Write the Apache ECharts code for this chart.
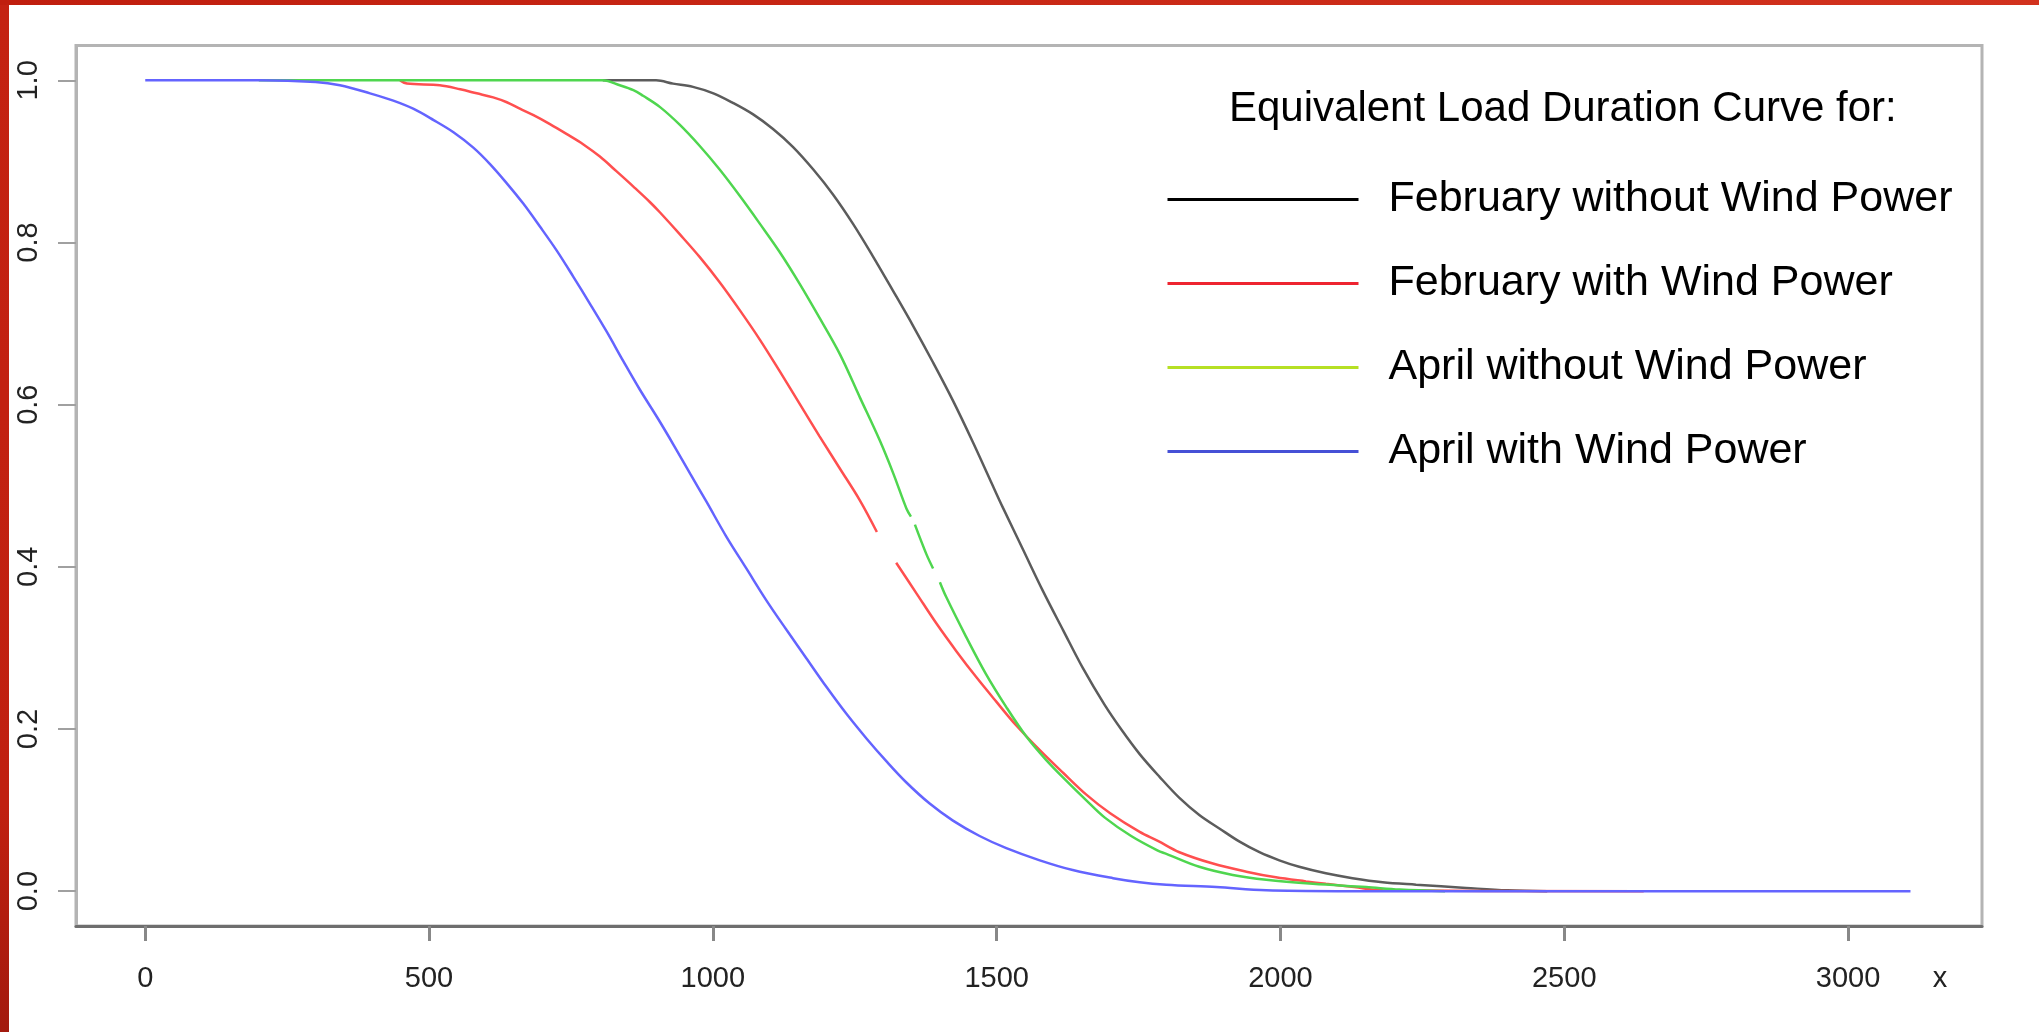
<!DOCTYPE html>
<html>
<head>
<meta charset="utf-8">
<script src="https://cdn.jsdelivr.net/npm/echarts@6/dist/echarts.min.js"></script>
<style>
html,body{margin:0;padding:0;background:#fff;overflow:hidden;}
#chart{position:absolute;left:0;top:0;width:2039px;height:1032px;}
#bl{position:absolute;left:0;top:0;width:9px;height:1032px;background:linear-gradient(#c42212,#c02010 78%,#a31a0e);}
#bt{position:absolute;left:0;top:0;width:2039px;height:5px;background:linear-gradient(90deg,#c01e0e,#d2321e);}
</style>
</head>
<body>
<div id="chart"></div><div id="bl"></div><div id="bt"></div>
<script>
// ---- data ----
const xTicks = [0, 500, 1000, 1500, 2000, 2500, 3000];
const yTicks = [0, 0.2, 0.4, 0.6, 0.8, 1.0];
const titleText = 'Equivalent Load Duration Curve for:';
const seriesNames = ['February without Wind Power', 'February with Wind Power', 'April without Wind Power', 'April with Wind Power'];

const febWithoutWind = [[806,1],[900,1],[930,0.996],[965,0.992],[1001,0.984],[1036,0.972],[1071,0.958],[1106,0.940],[1141,0.918],[1177,0.890],[1212,0.859],[1247,0.823],[1282,0.783],[1317,0.741],[1353,0.697],[1388,0.652],[1423,0.605],[1458,0.554],[1490,0.505],[1511,0.473],[1546,0.422],[1581,0.371],[1617,0.322],[1652,0.275],[1690,0.230],[1720,0.199],[1752,0.169],[1787,0.141],[1822,0.115],[1857,0.094],[1893,0.077],[1928,0.061],[1963,0.048],[1998,0.038],[2033,0.030],[2080,0.022],[2127,0.016],[2180,0.011],[2239,0.008],[2327,0.004],[2400,0.001],[2470,0]];

const febWithWind = [[449,1],[461,0.996],[519,0.994],[555,0.989],[584,0.984],[613,0.979],[637,0.973],[660,0.965],[684,0.957],[713,0.946],[742,0.934],[772,0.921],[801,0.906],[830,0.888],[860,0.869],[889,0.850],[907,0.837],[942,0.810],[977,0.782],[1012,0.751],[1048,0.716],[1083,0.680],[1118,0.641],[1153,0.601],[1188,0.561],[1224,0.521],[1259,0.482],[1289,0.443],[1305,null],[1323,0.405],[1359,0.367],[1394,0.330],[1429,0.296],[1464,0.264],[1499,0.234],[1535,0.204],[1576,0.174],[1617,0.146],[1658,0.119],[1700,0.096],[1752,0.073],[1784,0.062],[1822,0.048],[1881,0.034],[1940,0.024],[1992,0.017],[2045,0.012],[2080,0.009],[2130,0.005],[2180,0.001],[2640,0]];

const aprWithoutWind = [[200,1],[600,1],[806,1],[836,0.994],[860,0.988],[877,0.981],[907,0.967],[942,0.945],[977,0.919],[1012,0.890],[1048,0.857],[1083,0.823],[1118,0.788],[1153,0.749],[1188,0.707],[1224,0.662],[1259,0.609],[1294,0.556],[1318,0.515],[1341,0.472],[1349,0.462],[1352,null],[1356,0.452],[1376,0.416],[1388,0.398],[1394,null],[1400,0.381],[1411,0.363],[1446,0.314],[1481,0.268],[1517,0.227],[1552,0.191],[1587,0.162],[1623,0.136],[1658,0.112],[1690,0.091],[1737,0.068],[1784,0.050],[1799,0.046],[1857,0.030],[1916,0.020],[1975,0.014],[2057,0.009],[2151,0.005],[2210,0.002],[2290,0]];

const aprWithWind = [[0,1],[200,1],[300,0.998],[343,0.994],[396,0.984],[437,0.975],[472,0.965],[508,0.951],[543,0.936],[578,0.917],[607,0.897],[637,0.873],[666,0.848],[695,0.820],[725,0.790],[754,0.758],[783,0.725],[813,0.690],[842,0.654],[871,0.619],[904,0.582],[932,0.549],[960,0.515],[989,0.480],[1024,0.437],[1059,0.398],[1094,0.359],[1130,0.322],[1165,0.287],[1200,0.252],[1235,0.219],[1271,0.188],[1306,0.160],[1341,0.134],[1382,0.108],[1423,0.087],[1470,0.068],[1517,0.053],[1576,0.038],[1634,0.026],[1705,0.016],[1752,0.011],[1799,0.008],[1887,0.005],[1975,0.001],[2100,0],[3110,0]];

const seriesData = [febWithoutWind, febWithWind, aprWithoutWind, aprWithWind];
const lineColors = ['#5c5c5c', '#ff4f4f', '#4fd64f', '#6464ff'];
const legendColors = ['#000000', '#ee2430', '#b6e024', '#4650d6'];

const FONT = '"Liberation Sans", Arial, sans-serif';
const chart = echarts.init(document.getElementById('chart'), null, {renderer: 'canvas'});

const option = {
  animation: false,
  backgroundColor: '#ffffff',
  title: {
    text: titleText, left: 1229, top: 88, padding: 0,
    textStyle: {fontFamily: FONT, fontSize: 42, fontWeight: 'normal', color: '#000', lineHeight: 42}
  },
  legend: {
    orient: 'vertical', left: 1166, top: 178, padding: 0,
    itemWidth: 191, itemHeight: 42, itemGap: 41, selectedMode: false,
    textStyle: {fontFamily: FONT, fontSize: 43, color: '#000', lineHeight: 42, padding: [0, 0, 0, 25]},
    data: seriesNames.map((n, i) => ({
      name: n,
      itemStyle: {color: legendColors[i], opacity: 0, borderWidth: 0},
      lineStyle: {color: legendColors[i], width: 3, opacity: 1}
    }))
  },
  grid: {
    left: 76, right: 57, top: 45.5, bottom: 106,
    show: true, borderColor: '#b4b4b4', borderWidth: 3
  },
  xAxis: {
    type: 'value', min: -122, max: 3236,
    name: 'x', nameLocation: 'end', nameGap: -42,
    nameTextStyle: {fontFamily: FONT, fontSize: 29, color: '#222', align: 'center', verticalAlign: 'top', padding: [38, 0, 0, 0]},
    axisLine: {show: true, onZero: false, lineStyle: {color: '#6e6e6e', width: 3}},
    axisTick: {show: true, length: 15, customValues: xTicks, lineStyle: {color: '#888888', width: 3}},
    axisLabel: {customValues: xTicks, margin: 38, fontSize: 29, fontFamily: FONT, color: '#222',
      formatter: v => String(v)},
    splitLine: {show: false}
  },
  yAxis: {
    type: 'value', min: -0.043, max: 1.043,
    axisLine: {show: true, onZero: false, lineStyle: {color: '#b4b4b4', width: 3}},
    axisTick: {show: true, length: 18, customValues: yTicks, lineStyle: {color: '#a0a0a0', width: 2}},
    axisLabel: {customValues: yTicks, rotate: 90, margin: 33, fontSize: 29, fontFamily: FONT, color: '#222',
      formatter: v => v.toFixed(1)},
    splitLine: {show: false}
  },
  series: seriesNames.map((n, i) => ({
    name: n, type: 'line', data: seriesData[i],
    symbol: 'none', showSymbol: false, connectNulls: false,
    smooth: 0.35,
    itemStyle: {color: lineColors[i]},
    lineStyle: {color: lineColors[i], width: 2.5}
  }))
};
chart.setOption(option);
</script>
</body>
</html>
